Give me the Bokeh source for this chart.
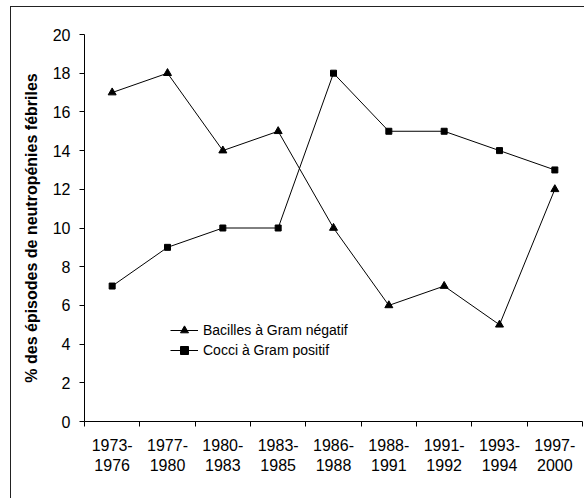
from bokeh.plotting import figure
from bokeh.models import FixedTicker, Legend, LegendItem, Range1d
from bokeh.embed import file_html
from bokeh.resources import INLINE

periods = ["1973-\n1976", "1977-\n1980", "1980-\n1983", "1983-\n1985", "1986-\n1988",
           "1988-\n1991", "1991-\n1992", "1993-\n1994", "1997-\n2000"]
bacilles = [17, 18, 14, 15, 10, 6, 7, 5, 12]
cocci = [7, 9, 10, 10, 18, 15, 15, 14, 13]
y_ticks = [0, 2, 4, 6, 8, 10, 12, 14, 16, 18, 20]

FONT = "Liberation Sans"

xs = [i + 0.5 for i in range(len(periods))]

p = figure(width=574, height=492, output_backend="svg", toolbar_location=None,
           x_range=Range1d(0, len(periods)), y_range=Range1d(0, 20),
           min_border_left=73, min_border_top=27, min_border_right=3, min_border_bottom=78)
# outer chart border (only its left and top edges fall inside the picture)
p.styles = {"border-left": "1px solid #222222", "border-top": "1px solid #222222",
            "margin-left": "10px", "margin-top": "6px"}
p.outline_line_color = None
p.xgrid.visible = False
p.ygrid.visible = False

r1 = p.line(xs, bacilles, line_color="black", line_width=1)
m1 = p.scatter(xs, bacilles, marker="triangle", size=8, fill_color="black", line_color="black")
r2 = p.line(xs, cocci, line_color="black", line_width=1)
m2 = p.scatter(xs, cocci, marker="square", size=6, fill_color="black", line_color="black")

xa = p.xaxis[0]
xa.ticker = FixedTicker(ticks=xs, minor_ticks=list(range(len(periods) + 1)))
xa.major_label_overrides = {x: lab for x, lab in zip(xs, periods)}
xa.major_tick_out = 0
xa.major_tick_in = 0
xa.minor_tick_out = 5
xa.minor_tick_in = 0
xa.minor_tick_line_color = "black"
xa.axis_line_color = "black"
xa.major_label_standoff = 10
xa.major_label_text_font = FONT
xa.major_label_text_font_size = "16px"
xa.major_label_text_color = "black"

ya = p.yaxis[0]
ya.ticker = FixedTicker(ticks=y_ticks)
ya.minor_tick_line_color = None
ya.major_tick_out = 5
ya.major_tick_in = 0
ya.major_tick_line_color = "black"
ya.axis_line_color = "black"
ya.major_label_standoff = 9
ya.major_label_text_font = FONT
ya.major_label_text_font_size = "16px"
ya.major_label_text_color = "black"
ya.axis_label = "% des épisodes de neutropénies fébriles"
ya.axis_label_text_font = FONT
ya.axis_label_text_font_size = "16px"
ya.axis_label_text_font_style = "bold"
ya.axis_label_text_color = "black"
ya.axis_label_standoff = 10

legend = Legend(items=[LegendItem(label="Bacilles à Gram négatif", renderers=[r1, m1]),
                       LegendItem(label="Cocci à Gram positif", renderers=[r2, m2])],
                location=(86, 61), padding=0, margin=0, spacing=0,
                glyph_width=28, glyph_height=20, label_standoff=5,
                label_text_font=FONT, label_text_font_size="14px",
                label_text_color="black",
                border_line_color=None, background_fill_alpha=0)
p.add_layout(legend)

open("out.html", "w").write(file_html(p, INLINE))
